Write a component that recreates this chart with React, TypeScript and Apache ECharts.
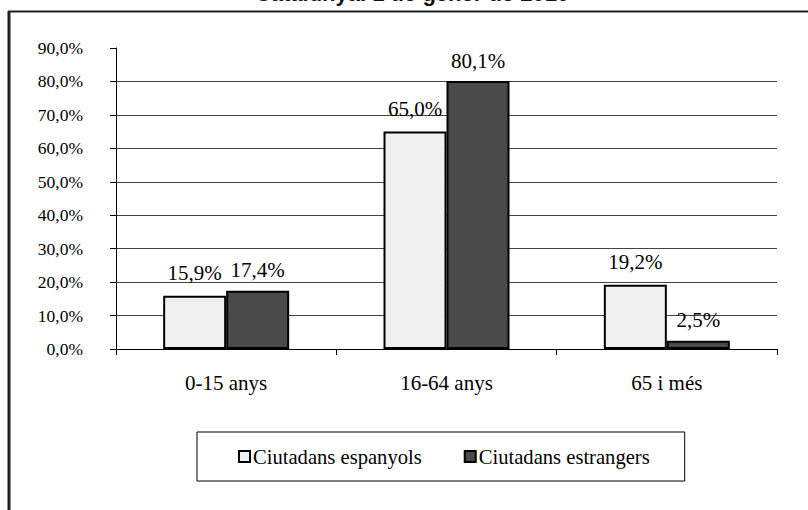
import React, { useEffect, useRef } from "react";
import * as echarts from "echarts";

const categories = ["0-15 anys", "16-64 anys", "65 i més"];
const espanyols = [15.9, 65.0, 19.2];
const estrangers = [17.4, 80.1, 2.5];
const seriesNames = ["Ciutadans espanyols", "Ciutadans estrangers"];
const titleText = "Catalunya. 1 de gener de 2010";

const SERIF = "'Times New Roman', 'Liberation Serif', serif";
const fmt = (v: number) => v.toFixed(1).replace(".", ",") + "%";

export default function App() {
  const ref = useRef<HTMLDivElement>(null);
  useEffect(() => {
    document.body.style.margin = "0";
    const chart = echarts.init(ref.current!, null, { renderer: "svg" });
    const barStyle = (color: string) => ({
      color,
      borderColor: "#000",
      borderWidth: 2,
    });
    const labelStyle = (distance: number) => ({
      show: true,
      position: "top",
      distance,
      fontFamily: SERIF,
      fontSize: 21,
      color: "#000",
      formatter: (p: any) => fmt(p.value),
    });
    chart.setOption({
      animation: false,
      backgroundColor: "#fff",
      grid: { left: 116, right: 31, top: 48, bottom: 161 },
      graphic: [
        {
          type: "line",
          shape: { x1: 8, y1: 11.5, x2: 808, y2: 11.5 },
          style: { stroke: "#222", lineWidth: 2 },
        },
        {
          type: "line",
          shape: { x1: 9, y1: 11, x2: 9, y2: 510 },
          style: { stroke: "#222", lineWidth: 3 },
        },
        {
          type: "text",
          x: 412,
          y: 4,
          style: {
            text: titleText,
            font: "bold 22px 'Liberation Sans', Arial, sans-serif",
            fill: "#111",
            align: "center",
            verticalAlign: "bottom",
          },
        },
      ],
      legend: {
        left: 197,
        top: 432,
        padding: [14, 35, 14, 41],
        itemGap: 42,
        itemWidth: 11,
        itemHeight: 11,
        icon: "rect",
        borderColor: "#000",
        borderWidth: 1,
        itemStyle: { borderColor: "#000", borderWidth: 2 },
        textStyle: { fontFamily: SERIF, fontSize: 20.6, color: "#000", padding: [0, 0, 0, -2] },
        data: seriesNames,
      },
      xAxis: {
        type: "category",
        data: categories,
        axisLine: { lineStyle: { color: "#000", width: 1 } },
        axisTick: { show: true, alignWithLabel: false, length: 6, lineStyle: { color: "#000" } },
        axisLabel: { fontFamily: SERIF, fontSize: 21, color: "#000", margin: 23 },
      },
      yAxis: {
        type: "value",
        min: 0,
        max: 90,
        interval: 10,
        axisLine: { show: true, lineStyle: { color: "#000", width: 1 } },
        axisTick: { show: true, length: 6, lineStyle: { color: "#000" } },
        axisLabel: {
          fontFamily: SERIF,
          fontSize: 17.5,
          color: "#000",
          margin: 33,
          formatter: (v: number) => fmt(v),
        },
        splitLine: { show: true, showMaxLine: false, lineStyle: { color: "#444", width: 1 } },
      },
      series: [
        {
          name: seriesNames[0],
          type: "bar",
          data: espanyols,
          barWidth: 63,
          barGap: "0%",
          itemStyle: barStyle("#f0f0f0"),
          label: labelStyle(12),
        },
        {
          name: seriesNames[1],
          type: "bar",
          data: estrangers,
          barWidth: 63,
          barGap: "0%",
          itemStyle: barStyle("#4a4a4a"),
          label: labelStyle(10),
        },
      ],
    });
    return () => chart.dispose();
  }, []);
  return <div ref={ref} style={{ width: 808, height: 510 }} />;
}
